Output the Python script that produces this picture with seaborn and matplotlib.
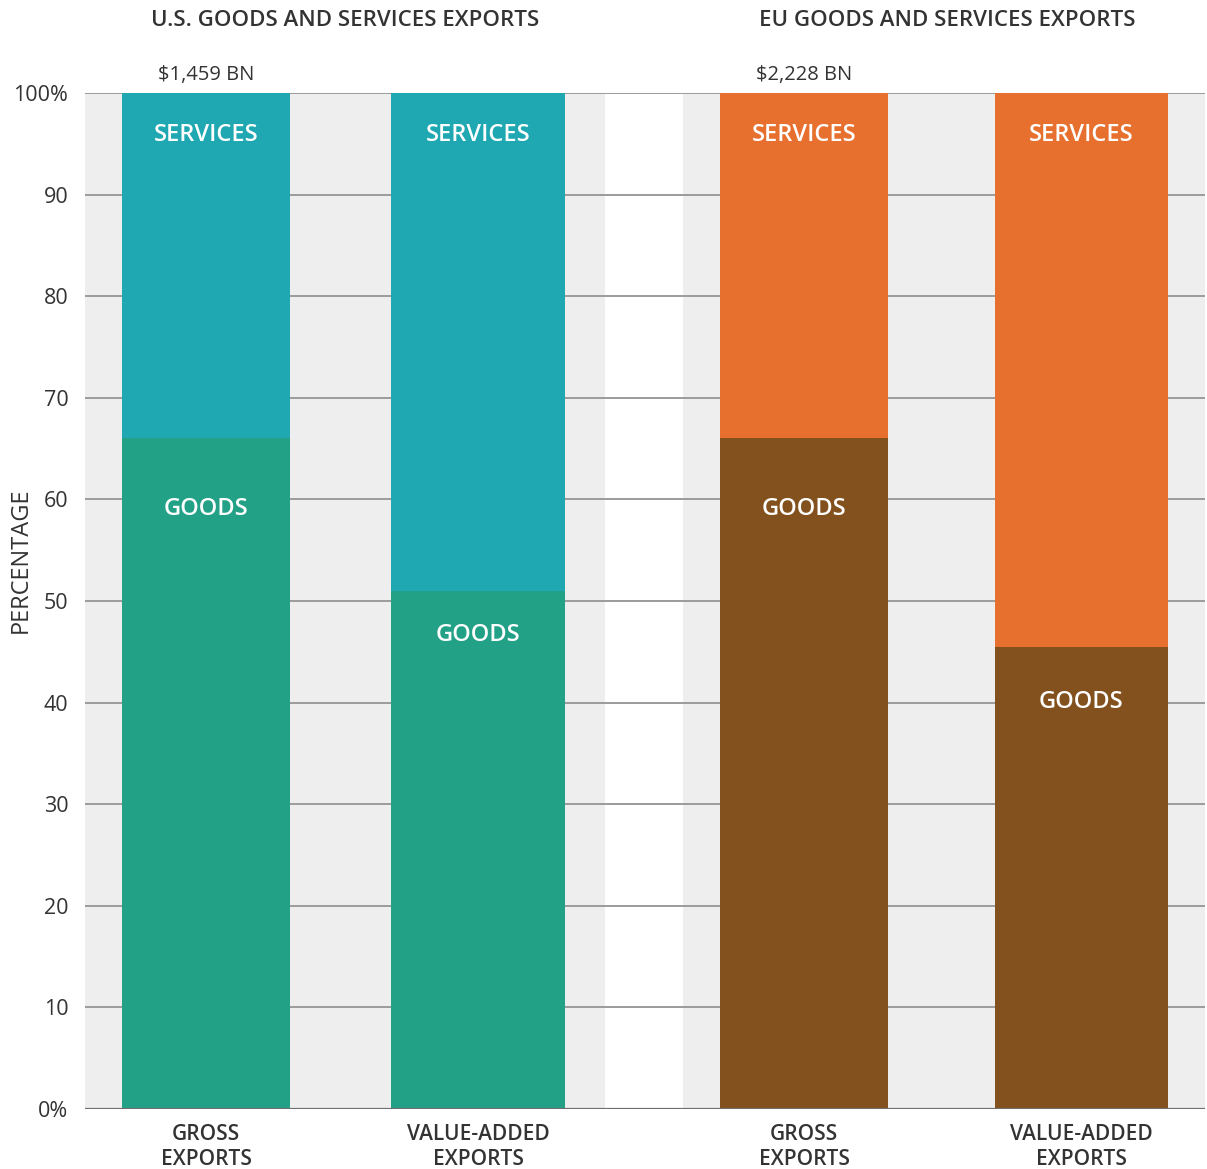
import matplotlib
matplotlib.use("Agg")
import matplotlib.pyplot as plt
import seaborn as sns
import pandas as pd

# --- data -------------------------------------------------------------
bar_keys = ["us_gross", "us_va", "eu_gross", "eu_va"]
measure_labels = ["GROSS\nEXPORTS", "VALUE-ADDED\nEXPORTS", "GROSS\nEXPORTS", "VALUE-ADDED\nEXPORTS"]
goods_share = [66, 51, 66, 45.5]
services_share = [34, 49, 34, 54.5]
total_labels = ["$1,459 BN", "", "$2,228 BN", ""]
panel_titles = ["U.S. GOODS AND SERVICES EXPORTS", "EU GOODS AND SERVICES EXPORTS"]

# --- layout & style ---------------------------------------------------
W, H = 1207, 1169
bar_centers = [206, 478, 804, 1081]
bar_widths = [168, 174, 168, 173]
goods_colors = ["#22a187", "#22a187", "#83511d", "#83511d"]
services_colors = ["#1fa7b2", "#1fa7b2", "#e8702f", "#e8702f"]
goods_label_drop = [51, 32, 51, 40]     # points below segment top
panel_spans = [(85, 605), (683, 1205)]
panel_title_x = [345, 947]
text_color = "#333333"

sns.set_theme(style="white")
plt.rcParams["font.family"] = ["Open Sans", "DejaVu Sans"]

df = pd.DataFrame({
    "key": bar_keys,
    "xpos": bar_centers,
    "goods": goods_share,
    "services": services_share,
})
df["total"] = df["goods"] + df["services"]

fig = plt.figure(figsize=(W / 100, H / 100), dpi=100)
ax = fig.add_axes([85 / W, 60 / H, 1120 / W, 1016 / H])

# grey panel backgrounds
for x0, x1 in panel_spans:
    ax.axvspan(x0, x1, color="#eeeeee", zorder=0, lw=0)

# horizontal gridlines
for v in range(10, 101, 10):
    ax.axhline(v, color="#9b9b9b", lw=1.4, zorder=1)


def draw_layer(col, colors):
    n0 = len(ax.patches)
    sns.barplot(data=df, x="xpos", y=col, hue="key", hue_order=bar_keys,
                palette=colors, native_scale=True, dodge=False, legend=False,
                saturation=1, linewidth=0, errorbar=None, ax=ax, zorder=2)
    for p, c, w in zip(ax.patches[n0:], bar_centers, bar_widths):
        p.set_x(c - w / 2)
        p.set_width(w)


draw_layer("total", services_colors)
draw_layer("goods", goods_colors)

ax.axhline(0, color="#707070", lw=1.6, zorder=3)

# segment labels
for i, (c, g, t) in enumerate(zip(bar_centers, goods_share, df["total"])):
    ax.annotate("SERVICES", (c, t), xytext=(0, -30), textcoords="offset points",
                ha="center", va="center", color="white", fontsize=17,
                fontweight="semibold", zorder=4)
    ax.annotate("GOODS", (c, g), xytext=(0, -goods_label_drop[i]),
                textcoords="offset points", ha="center", va="center",
                color="white", fontsize=17, fontweight="semibold", zorder=4)
    if total_labels[i]:
        ax.annotate(total_labels[i], (c, t), xytext=(0, 13),
                    textcoords="offset points", ha="center", va="center",
                    color=text_color, fontsize=14.5, annotation_clip=False)

# panel titles
for x, title in zip(panel_title_x, panel_titles):
    fig.text(x / W, 1 - 20 / H, title, ha="center", va="center",
             fontsize=16, fontweight="semibold", color=text_color)

ax.set_xlim(85, 1205)
ax.set_ylim(0, 100)
ax.set_xticks(bar_centers)
ax.set_xticklabels(measure_labels, fontsize=15, color=text_color,
                   linespacing=1.25, fontweight="semibold")
yt = list(range(0, 101, 10))
ax.set_yticks(yt)
ax.set_yticklabels(["0%"] + [str(v) for v in yt[1:-1]] + ["100%"],
                   fontsize=15.5, color=text_color)
ax.tick_params(axis="both", length=0)
ax.tick_params(axis="y", pad=12)
ax.tick_params(axis="x", pad=10.5)
ax.set_xlabel("")
ax.set_ylabel("PERCENTAGE", fontsize=17, color=text_color)
ax.yaxis.set_label_coords(-0.047, 0.54)
for s in ax.spines.values():
    s.set_visible(False)

fig.savefig("out.png", dpi=100)
